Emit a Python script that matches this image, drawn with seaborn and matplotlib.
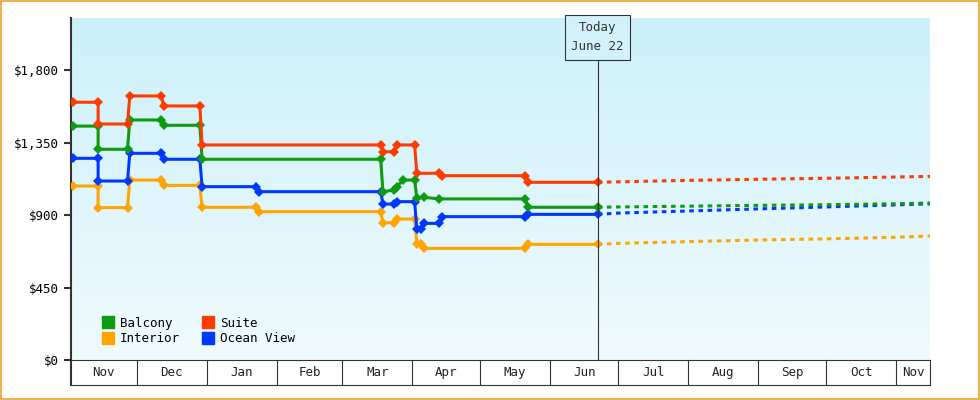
import matplotlib
matplotlib.use("Agg")
import matplotlib.pyplot as plt
import matplotlib.transforms as mtrans
import numpy as np
import pandas as pd
import seaborn as sns

suite_dates = ["2023-11-03","2023-11-14","2023-11-14","2023-11-27","2023-11-28","2023-12-12","2023-12-13","2023-12-29","2023-12-30","2024-03-18","2024-03-19","2024-03-24","2024-03-25","2024-04-02","2024-04-03","2024-04-13","2024-04-14","2024-05-21","2024-05-22","2024-06-22"]
suite_prices = [1600,1600,1465,1465,1639,1639,1577,1577,1335,1335,1293,1293,1335,1335,1159,1159,1144,1144,1103,1103]
balcony_dates = ["2023-11-03","2023-11-14","2023-11-14","2023-11-27","2023-11-28","2023-12-12","2023-12-13","2023-12-29","2023-12-30","2024-03-18","2024-03-19","2024-03-24","2024-03-25","2024-03-28","2024-04-02","2024-04-03","2024-04-06","2024-04-13","2024-05-21","2024-05-22","2024-06-22"]
balcony_prices = [1452,1452,1308,1308,1490,1490,1457,1457,1246,1246,1045,1055,1075,1117,1117,1004,1010,1000,1000,948,948]
ocean_dates = ["2023-11-03","2023-11-14","2023-11-14","2023-11-27","2023-11-28","2023-12-12","2023-12-13","2023-12-29","2023-12-30","2024-01-23","2024-01-24","2024-03-18","2024-03-19","2024-03-24","2024-03-25","2024-04-02","2024-04-03","2024-04-05","2024-04-06","2024-04-13","2024-04-14","2024-05-21","2024-05-22","2024-06-22"]
ocean_prices = [1252,1252,1111,1111,1283,1283,1246,1246,1076,1076,1045,1045,968,968,983,983,811,811,848,848,890,890,904,904]
interior_dates = ["2023-11-03","2023-11-14","2023-11-14","2023-11-27","2023-11-28","2023-12-12","2023-12-13","2023-12-29","2023-12-30","2024-01-23","2024-01-24","2024-03-18","2024-03-19","2024-03-24","2024-03-25","2024-04-02","2024-04-03","2024-04-05","2024-04-06","2024-05-21","2024-05-22","2024-06-22"]
interior_prices = [1080,1080,946,946,1117,1117,1084,1084,948,948,921,921,852,852,875,875,720,720,693,693,718,718]

forecast_dates = ["2024-06-22","2024-07-01","2024-08-01","2024-09-01","2024-10-01","2024-11-01","2024-11-17"]
suite_forecast = [1103,1106,1115,1122,1128,1136,1140]
balcony_forecast = [948,950,955,960,964,970,975]
ocean_forecast = [904,912,925,938,950,963,970]
interior_forecast = [718,724,735,745,752,762,770]

y_ticks = [0,450,900,1350,1800]
month_labels = ["Nov","Dec","Jan","Feb","Mar","Apr","May","Jun","Jul","Aug","Sep","Oct","Nov"]
month_starts = ["2023-11-01","2023-12-01","2024-01-01","2024-02-01","2024-03-01","2024-04-01","2024-05-01","2024-06-01","2024-07-01","2024-08-01","2024-09-01","2024-10-01","2024-11-01","2024-12-01"]
today = "2024-06-22"

colors = {"Balcony":"#0f9a0f","Suite":"#ff3c00","Interior":"#ffa500","Ocean View":"#0038ff"}
series = [("Interior",interior_dates,interior_prices,interior_forecast),
          ("Ocean View",ocean_dates,ocean_prices,ocean_forecast),
          ("Balcony",balcony_dates,balcony_prices,balcony_forecast),
          ("Suite",suite_dates,suite_prices,suite_forecast)]

plt.rcParams["font.family"] = "DejaVu Sans Mono"
FS = 9
fig = plt.figure(figsize=(9.8,4), dpi=100)
fig.patch.set_facecolor("white")
fig.patches.append(plt.Rectangle((0.001,0.002),0.998,0.996,transform=fig.transFigure,fill=False,edgecolor="#f0a030",lw=1.2))
ax = fig.add_axes([71/980, 40/400, 859/980, 342/400])

xmin, xmax = pd.Timestamp("2023-11-02"), pd.Timestamp("2024-11-16")
ymin, ymax = 0, 2123
grad = np.linspace(0,1,256).reshape(-1,1)
from matplotlib.colors import LinearSegmentedColormap
cm = LinearSegmentedColormap.from_list("g", ["#ccf0fb","#f0fbfe"])
ax.imshow(grad, aspect="auto", cmap=cm, origin="upper", extent=[0,1,0,1], transform=ax.transAxes, zorder=0)

for name, d, p, f in series:
    df = pd.DataFrame({"date":pd.to_datetime(d),"price":p})
    sns.lineplot(data=df, x="date", y="price", sort=False, estimator=None, color=colors[name],
                 lw=2.2, marker="D", markersize=5, markeredgewidth=0, ax=ax, zorder=3)
    fd = pd.DataFrame({"date":pd.to_datetime(forecast_dates),"price":f})
    sns.lineplot(data=fd, x="date", y="price", sort=False, estimator=None, color=colors[name],
                 lw=2.2, ls=(0,(1.5,1.5)), ax=ax, zorder=3)

ax.set_xlim(xmin, xmax)
ax.set_ylim(ymin, ymax)
ax.set_yticks(y_ticks)
ax.set_yticklabels([f"${v:,}" for v in y_ticks], fontsize=FS)
ax.set_xticks([])
ax.set_xlabel(""); ax.set_ylabel("")
for s in ["top","right"]:
    ax.spines[s].set_visible(False)
ax.spines["left"].set_color("#333333"); ax.spines["left"].set_linewidth(1.5)
ax.spines["bottom"].set_color("#333333")
ax.tick_params(axis="y", length=5, width=1.5, color="#333333")

# today marker
td = pd.Timestamp(today)
ax.axvline(td, color="#333333", lw=0.8, ymin=0, ymax=0.88, zorder=4)
ax.text(td, 0.99, "Today\nJune 22", transform=mtrans.blended_transform_factory(ax.transData, ax.transAxes),
        ha="center", va="top", fontsize=FS, color="#333333", linespacing=1.6,
        bbox=dict(boxstyle="square,pad=0.5", fc="#d3f1fb", ec="#333333", lw=0.8), zorder=5)

# month boxes
bt = mtrans.blended_transform_factory(ax.transData, ax.transAxes)
hb = -25/342
ms = pd.to_datetime(month_starts)
for i, lab in enumerate(month_labels):
    a, b = max(ms[i], xmin), min(ms[i+1], xmax)
    ax.text(a + (b-a)/2, hb/2, lab, transform=bt, ha="center", va="center", fontsize=FS, color="#222222", clip_on=False)
    if ms[i] > xmin:
        ax.plot([ms[i], ms[i]], [0, hb], transform=bt, color="#333333", lw=0.8, clip_on=False)
ax.plot([xmin, xmin], [0, hb], transform=bt, color="#333333", lw=1.5, clip_on=False)
ax.plot([xmax, xmax], [0, hb], transform=bt, color="#333333", lw=0.8, clip_on=False)
ax.plot([xmin, xmax], [hb, hb], transform=bt, color="#333333", lw=0.8, clip_on=False)

from matplotlib.lines import Line2D
order = ["Balcony","Interior","Suite","Ocean View"]
handles = [Line2D([],[],marker="s",ls="",color=colors[n],markersize=8) for n in order]
ax.legend(handles, order, ncol=2, loc="lower left", bbox_to_anchor=(0.015,0.01), frameon=False,
          fontsize=FS, handletextpad=0.0, columnspacing=1.2, labelspacing=0.2)

fig.savefig("out.png", dpi=100)
